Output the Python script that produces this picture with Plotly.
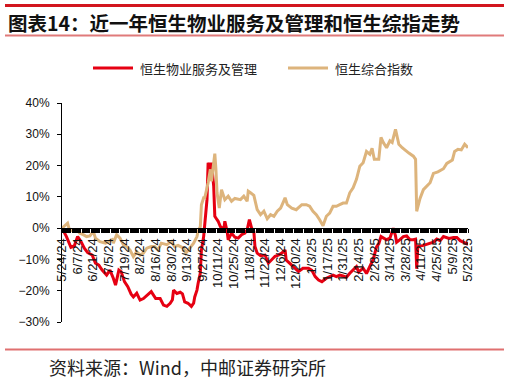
import plotly.graph_objects as go

# ---------------- data ----------------
prop_dates = [
    "2024-05-24", "2024-05-28", "2024-06-01", "2024-06-04", "2024-06-07", "2024-06-10",
    "2024-06-13", "2024-06-16", "2024-06-20", "2024-06-23", "2024-06-26", "2024-06-29",
    "2024-07-03", "2024-07-06", "2024-07-09", "2024-07-11", "2024-07-14", "2024-07-16",
    "2024-07-19", "2024-07-22", "2024-07-25", "2024-07-27", "2024-07-30", "2024-08-02",
    "2024-08-05", "2024-08-09", "2024-08-12", "2024-08-16", "2024-08-20", "2024-08-23",
    "2024-08-26", "2024-08-29", "2024-08-31", "2024-09-01", "2024-09-04", "2024-09-07",
    "2024-09-09", "2024-09-11", "2024-09-14", "2024-09-17", "2024-09-19", "2024-09-20",
    "2024-09-22", "2024-09-23", "2024-09-25", "2024-09-26", "2024-09-28", "2024-10-01",
    "2024-10-02", "2024-10-04", "2024-10-05", "2024-10-07", "2024-10-08", "2024-10-10",
    "2024-10-11", "2024-10-13", "2024-10-16", "2024-10-17", "2024-10-19", "2024-10-20",
    "2024-10-23", "2024-10-26", "2024-10-29", "2024-11-01", "2024-11-04", "2024-11-06",
    "2024-11-08", "2024-11-10", "2024-11-12", "2024-11-13", "2024-11-15", "2024-11-18",
    "2024-11-22", "2024-11-25", "2024-11-28", "2024-12-01", "2024-12-04", "2024-12-07",
    "2024-12-10", "2024-12-11", "2024-12-14", "2024-12-18", "2024-12-22", "2024-12-26",
    "2024-12-31", "2025-01-03", "2025-01-06", "2025-01-09", "2025-01-12", "2025-01-16",
    "2025-01-19", "2025-01-22", "2025-01-25", "2025-01-28", "2025-01-31", "2025-02-03",
    "2025-02-06", "2025-02-09", "2025-02-12", "2025-02-14", "2025-02-18", "2025-02-21",
    "2025-02-24", "2025-02-27", "2025-03-02", "2025-03-04", "2025-03-06", "2025-03-08",
    "2025-03-11", "2025-03-14", "2025-03-17", "2025-03-19", "2025-03-20", "2025-03-23",
    "2025-03-26", "2025-03-29", "2025-04-01", "2025-04-04", "2025-04-06", "2025-04-07",
    "2025-04-08", "2025-04-13", "2025-04-17", "2025-04-22", "2025-04-25", "2025-04-28",
    "2025-05-01", "2025-05-06", "2025-05-10", "2025-05-13", "2025-05-16", "2025-05-19",
    "2025-05-22", "2025-05-23",
]
prop_values = [
    0.0, -2.7, -6.1, -5.7, -2.7, -4.3,
    -6.4, -7.8, -8.6, -11.2, -11.8, -13.4,
    -15.0, -13.4, -16.0, -18.2, -13.4, -13.9,
    -17.1, -18.7, -21.1, -22.0, -20.8, -23.0,
    -22.5, -21.4, -20.3, -22.5, -22.5, -24.6,
    -25.0, -24.0, -22.9, -19.8, -20.9, -20.5,
    -21.0, -23.6, -24.0, -25.0, -24.0, -22.0,
    -19.8, -17.7, -14.4, -7.0, -2.7, 9.1,
    20.9, 18.8, 20.9, 13.4, 3.8, 2.7,
    2.2, 0.5, -0.5, 2.2, -1.0, -3.7,
    -1.6, -2.9, -3.2, -2.1, -1.6, -0.5,
    2.7, 0.0, -1.1, -5.9, -8.0, -8.8,
    -8.6, -11.2, -10.2, -9.0, -8.6, -8.0,
    -7.0, -10.2, -11.2, -12.5, -13.9, -12.8,
    -12.8, -13.5, -15.5, -16.6, -17.1, -16.0,
    -15.5, -15.0, -15.5, -15.0, -15.3, -15.7,
    -14.4, -13.5, -12.3, -14.0, -12.8, -14.5,
    -12.5, -10.0, -6.0, -5.0, -2.7, -3.0,
    -3.7, -3.2, 0.0, -2.5, -4.5, -3.7,
    -2.7, -2.5, -3.7, -3.7, -3.5, -13.0,
    -5.9, -5.5, -5.0, -4.5, -3.5, -4.0,
    -2.7, -3.3, -3.0, -3.0, -4.0, -4.5,
    -5.0, -4.5,
]

hsci_dates = [
    "2024-05-24", "2024-05-29", "2024-05-31", "2024-06-03", "2024-06-06", "2024-06-09",
    "2024-06-12", "2024-06-15", "2024-06-18", "2024-06-21", "2024-06-23", "2024-06-27",
    "2024-07-02", "2024-07-04", "2024-07-08", "2024-07-09", "2024-07-12", "2024-07-15",
    "2024-07-18", "2024-07-21", "2024-07-24", "2024-07-27", "2024-07-30", "2024-08-02",
    "2024-08-05", "2024-08-08", "2024-08-12", "2024-08-15", "2024-08-18", "2024-08-21",
    "2024-08-26", "2024-08-30", "2024-09-02", "2024-09-05", "2024-09-10", "2024-09-12",
    "2024-09-14", "2024-09-17", "2024-09-19", "2024-09-22", "2024-09-23", "2024-09-25",
    "2024-09-26", "2024-09-28", "2024-09-29", "2024-10-02", "2024-10-04", "2024-10-05",
    "2024-10-07", "2024-10-08", "2024-10-09", "2024-10-10", "2024-10-12", "2024-10-14",
    "2024-10-17", "2024-10-20", "2024-10-23", "2024-10-26", "2024-10-31", "2024-11-03",
    "2024-11-06", "2024-11-07", "2024-11-09", "2024-11-12", "2024-11-15", "2024-11-18",
    "2024-11-21", "2024-11-24", "2024-11-27", "2024-11-30", "2024-12-03", "2024-12-06",
    "2024-12-08", "2024-12-10", "2024-12-12", "2024-12-16", "2024-12-20", "2024-12-25",
    "2024-12-29", "2025-01-01", "2025-01-04", "2025-01-07", "2025-01-10", "2025-01-13",
    "2025-01-16", "2025-01-19", "2025-01-22", "2025-01-25", "2025-01-28", "2025-01-31",
    "2025-02-03", "2025-02-06", "2025-02-09", "2025-02-12", "2025-02-15", "2025-02-18",
    "2025-02-21", "2025-02-24", "2025-02-26", "2025-02-28", "2025-03-04", "2025-03-06",
    "2025-03-08", "2025-03-11", "2025-03-14", "2025-03-16", "2025-03-19", "2025-03-22",
    "2025-03-25", "2025-03-28", "2025-03-31", "2025-04-04", "2025-04-06", "2025-04-07",
    "2025-04-10", "2025-04-13", "2025-04-16", "2025-04-19", "2025-04-22", "2025-04-26",
    "2025-05-01", "2025-05-04", "2025-05-09", "2025-05-11", "2025-05-14", "2025-05-17",
    "2025-05-20", "2025-05-23",
]
hsci_values = [
    0.0, 1.6, -1.0, -0.5, -0.5, -1.6,
    -2.1, -2.7, -2.5, -1.0, -3.2, -4.3,
    -4.8, -4.5, -3.7, -4.8, -2.1, -3.2,
    -5.3, -5.9, -7.0, -9.1, -7.5, -8.6,
    -8.0, -6.4, -5.9, -5.9, -7.0, -4.8,
    -5.3, -4.3, -5.9, -5.5, -6.4, -8.0,
    -7.0, -5.9, -4.8, -2.7, -1.0, 0.5,
    7.5, 9.7, 9.7, 14.5, 18.8, 15.0,
    21.4, 23.8, 18.8, 11.3, 6.4, 12.3,
    9.1, 10.2, 8.6, 9.5, 9.1, 10.2,
    8.6, 11.8, 11.3, 10.5, 5.9, 4.3,
    5.4, 3.0, 4.3, 3.8, 5.4, 6.4,
    8.0, 9.7, 7.5, 6.4, 5.9, 7.5,
    7.5, 7.0, 5.4, 4.3, 2.7, 0.8,
    3.8, 4.8, 7.0, 7.0, 7.5, 8.0,
    8.0, 11.3, 12.9, 15.6, 19.8, 20.9,
    24.5, 23.6, 25.5, 22.0, 22.0, 29.0,
    27.4, 25.7, 27.9, 27.4, 31.6, 26.8,
    25.7, 24.7, 24.0, 23.0, 22.0, 5.4,
    9.5, 12.3, 13.5, 14.5, 17.5, 18.0,
    19.0, 20.7, 21.8, 24.5, 25.2, 25.0,
    26.8, 25.7,
]

series_names = ["恒生物业服务及管理", "恒生综合指数"]
series_colors = ["#E60012", "#DDB47C"]
title_text = "图表14：近一年恒生物业服务及管理和恒生综指走势"
source_text = "资料来源：Wind，中邮证券研究所"

# ---------------- figure ----------------
W, H = 510, 385
L, R, T, B = 62, 42, 103, 63
PW, PH = W - L - R, H - T - B


def px_x(px):
    return (px - L) / PW


def px_y(py):
    return (H - B - py) / PH


cjk = "Noto Sans CJK SC"
latin = "Liberation Sans, Arial, sans-serif"

fig = go.Figure()
for xs, ys, name, color in [(prop_dates, prop_values, series_names[0], series_colors[0]),
                            (hsci_dates, hsci_values, series_names[1], series_colors[1])]:
    fig.add_trace(go.Scatter(x=xs, y=ys, mode="lines", name=name,
                             line=dict(color=color, width=3), showlegend=False))

DAY = 86400000
fig.update_layout(
    width=W, height=H,
    margin=dict(l=L, r=R, t=T, b=B, pad=0, autoexpand=False),
    paper_bgcolor="white", plot_bgcolor="white",
    showlegend=False,
    xaxis=dict(
        type="date",
        range=["2024-05-24", "2025-05-23"],
        anchor="free", position=30 / 70,
        showline=True, linecolor="#000", linewidth=1,
        showgrid=False, zeroline=False,
        ticks="outside", ticklen=4, tickcolor="#000",
        tick0="2024-05-24", dtick=14 * DAY,
        tickformat="%-m/%-d/%y", tickangle=-90,
        tickfont=dict(family=latin, size=13, color="#111"),
        minor=dict(dtick=DAY, tick0="2024-05-24", ticks="outside", ticklen=4,
                   tickcolor="#000", tickwidth=1, showgrid=False),
    ),
    yaxis=dict(
        range=[-30, 40], dtick=10, ticksuffix="%",
        showline=True, linecolor="#000", linewidth=1,
        showgrid=False, zeroline=False,
        ticks="outside", ticklen=4, tickcolor="#000",
        ticklabelstandoff=5,
        tickfont=dict(family=latin, size=12, color="#111"),
    ),
)

# legend (line samples + labels)
legend_items = [(93, 133, 138), (288, 328, 333)]
for (lx0, lx1, tx), name, color in zip(legend_items, series_names, series_colors):
    fig.add_shape(type="line", xref="paper", yref="paper", x0=px_x(lx0), x1=px_x(lx1),
                  y0=px_y(68), y1=px_y(68), line=dict(color=color, width=3))
    fig.add_annotation(text=name, xref="paper", yref="paper", x=px_x(tx), y=px_y(68),
                       xanchor="left", yanchor="middle", showarrow=False,
                       font=dict(family=cjk, size=13, color="#222"))

# decorative rules of the report frame
fig.add_shape(type="line", xref="paper", yref="paper", x0=px_x(5), x1=px_x(504),
              y0=px_y(5.5), y1=px_y(5.5), line=dict(color="#D2161E", width=3))
fig.add_shape(type="line", xref="paper", yref="paper", x0=px_x(5), x1=px_x(504),
              y0=px_y(35.5), y1=px_y(35.5), line=dict(color="#E07A7A", width=2))
fig.add_shape(type="line", xref="paper", yref="paper", x0=px_x(5), x1=px_x(504),
              y0=px_y(349.5), y1=px_y(349.5), line=dict(color="#E07070", width=2))

fig.add_annotation(text=title_text, xref="paper", yref="paper", x=px_x(6), y=px_y(22),
                   xanchor="left", yanchor="middle", showarrow=False,
                   font=dict(family=cjk, size=19.5, color="#111", weight="bold"))
fig.add_annotation(text=source_text, xref="paper", yref="paper", x=px_x(47), y=px_y(367),
                   xanchor="left", yanchor="middle", showarrow=False,
                   font=dict(family=cjk, size=18, color="#222"))

fig.write_html("out.html",
               config={"displayModeBar": False},
               post_script="document.body.style.margin='0';document.body.style.overflow='hidden';")
